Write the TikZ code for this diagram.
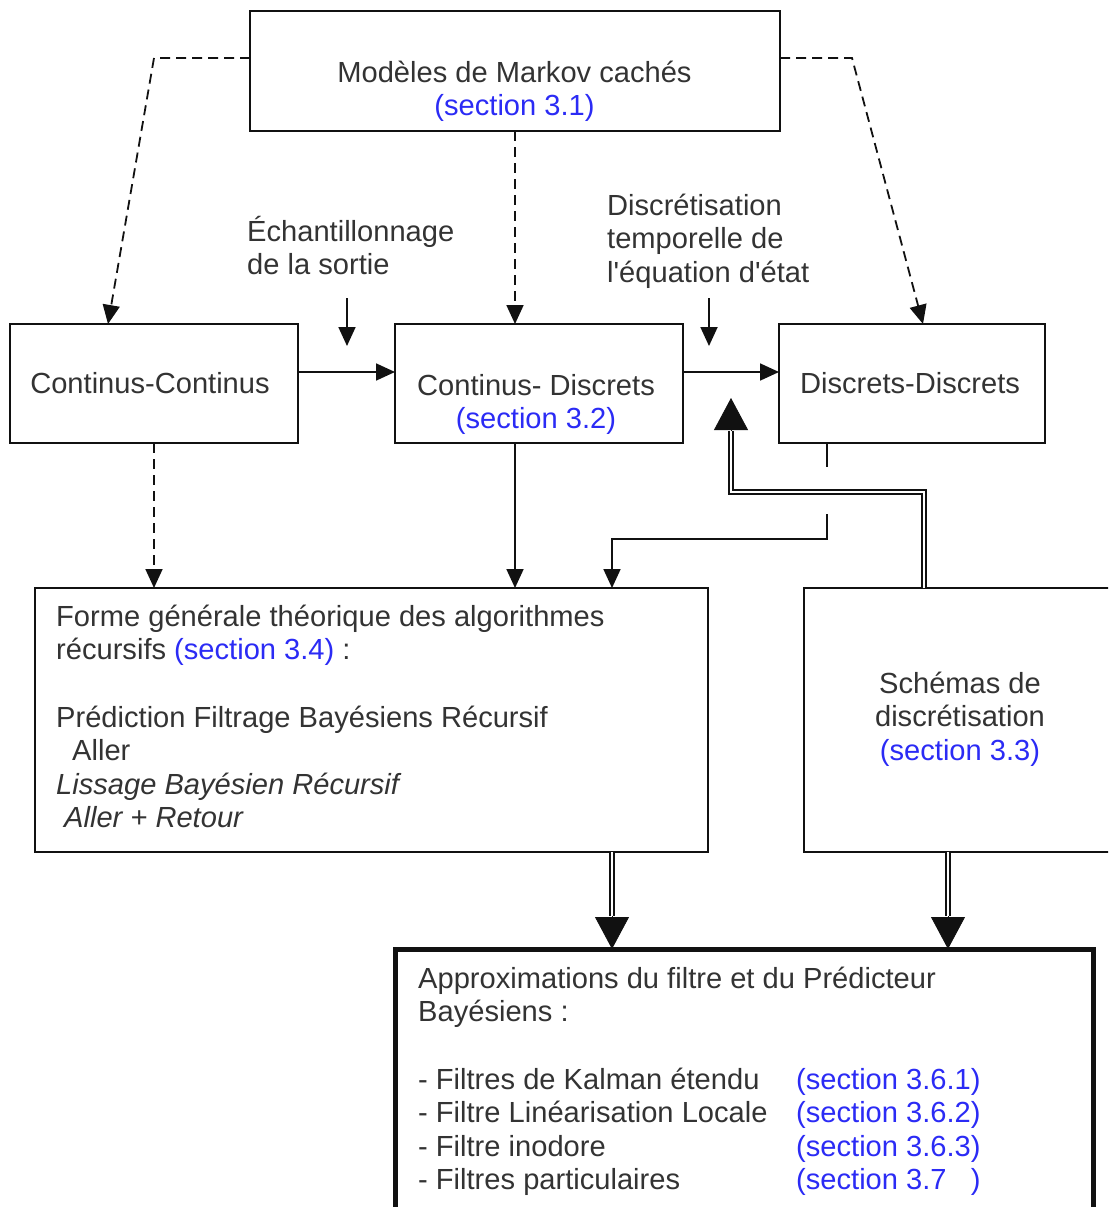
\documentclass[tikz,border=0pt]{standalone}
\usepackage{fontspec}
\setmainfont{Liberation Sans}[Ligatures=TeXOff]
\usepackage{xcolor}
\definecolor{chart-text}{HTML}{333333}
\definecolor{chart-line}{HTML}{111111}
\definecolor{chart-ref}{HTML}{2B2BF5}
\usepackage{tikz}
\usetikzlibrary{arrows.meta}

\newcommand{\sect}[1]{\textcolor{chart-ref}{#1}}
\newcommand{\topstrut}{\rule{0pt}{28pt}}

\tikzset{
  box/.style={draw=chart-line, line width=1.8pt, inner sep=0pt, outer sep=0pt, anchor=north west},
  txt/.style={text=chart-text, inner sep=0pt, font=\fontsize{29.1}{33.6}\selectfont},
  wire/.style={draw=chart-line, line width=1.8pt},
  link/.style={wire, -{Triangle[length=19pt,width=17pt]}},
  dashlink/.style={link, dash pattern=on 10pt off 6pt},
  dbl/.style={draw=chart-line, line width=1.5pt, double, double distance=2.5pt},
  bigtip/.style={draw=chart-line, fill=chart-line, line width=0.8pt, -{Triangle[length=32pt,width=34pt]}},
}

\begin{document}
\begin{tikzpicture}[x=1pt, y=-1pt]

    % Page
    \useasboundingbox (0,0) rectangle (1108,1207);
    \clip (0,0) rectangle (1108,1207);

    % Boxes
    \node[box, minimum width=530, minimum height=120] (markov) at (250,11) {};
    \node[box, minimum width=288, minimum height=119] (cc) at (10,324) {};
    \node[box, minimum width=288, minimum height=119] (cd) at (395,324) {};
    \node[box, minimum width=266, minimum height=119] (dd) at (779,324) {};
    \node[box, minimum width=673, minimum height=264] (forme) at (35,588) {};
    \node[box, minimum width=320, minimum height=264] (schemas) at (804,588) {};
    \node[box, line width=5pt, minimum width=698, minimum height=300] (approx) at (395,949) {};

    % Box texts
    \node[txt, anchor=north, align=center] (markovtxt) at (514.5,54)
        {\topstrut Modèles de Markov cachés\\\sect{(section 3.1)}};
    \node[txt, anchor=base] (cctxt) at (150,393) {Continus-Continus};
    \node[txt, anchor=north, align=center] (cdtxt) at (536,367)
        {\topstrut Continus- Discrets\\\sect{(section 3.2)}};
    \node[txt, anchor=base] (ddtxt) at (910,393) {Discrets-Discrets};
    \node[txt, anchor=north west, align=left] (formetxt) at (56,598)
        {\topstrut Forme générale théorique des algorithmes\\
         récursifs \sect{(section 3.4)} :\\
         \\
         Prédiction Filtrage Bayésiens Récursif\\
         \hspace*{16pt}Aller\\
         \textit{Lissage Bayésien Récursif}\\
         \hspace*{8pt}\textit{Aller + Retour}};
    \node[txt, anchor=north, align=center] (schemastxt) at (960,665)
        {\topstrut Schémas de\\discrétisation\\\sect{(section 3.3)}};
    \node[txt, anchor=north west, align=left] (approxtxt) at (418,960)
        {\topstrut Approximations du filtre et du Prédicteur\\
         Bayésiens :\\
         \\
         \makebox[378pt][l]{- Filtres de Kalman étendu}\sect{(section 3.6.1)}\\
         \makebox[378pt][l]{- Filtre Linéarisation Locale}\sect{(section 3.6.2)}\\
         \makebox[378pt][l]{- Filtre inodore}\sect{(section 3.6.3)}\\
         \makebox[378pt][l]{- Filtres particulaires}\sect{(section 3.7\hphantom{.1})}};

    % Side labels
    \node[txt, anchor=north west, align=left] (samptxt) at (247,213)
        {\topstrut Échantillonnage\\de la sortie};
    \node[txt, anchor=north west, align=left] (disctxt) at (607,187)
        {\topstrut Discrétisation\\temporelle de\\l'équation d'état};

    % Dashed links from the top box
    \coordinate (mkl) at (154,58);
    \coordinate (mkr) at (852,58);
    \draw[dashlink] ([yshift=13pt]markov.west) -- (mkl) -- ([xshift=-46pt]cc.north);
    \draw[dashlink] ([yshift=13pt]markov.east) -- (mkr) -- ([xshift=11pt]dd.north);
    \draw[dashlink] (markov.south) -- (markov.south |- cd.north);

    % Row links
    \draw[link] ([yshift=11.5pt]cc.east) -- ([yshift=11.5pt]cd.west);
    \draw[link] ([yshift=11.5pt]cd.east) -- ([yshift=11.5pt]dd.west);
    \coordinate (sampin) at (347,298);
    \coordinate (discin) at (709,298);
    \draw[link] (sampin) -- ++(0,48);
    \draw[link] (discin) -- ++(0,48);

    % Down to the general form
    \draw[dashlink] (cc.south) -- (cc.south |- forme.north);
    \draw[link] (markov.south |- cd.south) -- (markov.south |- forme.north);
    \coordinate (ddfoot) at ([xshift=-85pt]dd.south);
    \draw[wire] (ddfoot) -- ++(0,24);
    \draw[link] ([yshift=-71pt]ddfoot) -- ++(0,25) -| ([xshift=240.5pt]forme.north);

    % Discretisation schemes feed the row
    \coordinate (hook) at (731,398);
    \draw[dbl] ([xshift=-40pt]schemas.north) -- ++(0,-96) -| ([yshift=-33pt]hook);
    \draw[bigtip] ([yshift=-33pt]hook) -- (hook);

    % Double links to the approximations
    \coordinate (formeout) at ([xshift=240.5pt]forme.south);
    \coordinate (schemout) at ([xshift=-16pt]schemas.south);
    \draw[dbl] (formeout) -- ([yshift=33pt]formeout |- approx.north);
    \draw[bigtip] ([yshift=33pt]formeout |- approx.north) -- (formeout |- approx.north);
    \draw[dbl] (schemout) -- ([yshift=33pt]schemout |- approx.north);
    \draw[bigtip] ([yshift=33pt]schemout |- approx.north) -- (schemout |- approx.north);

\end{tikzpicture}
\end{document}
